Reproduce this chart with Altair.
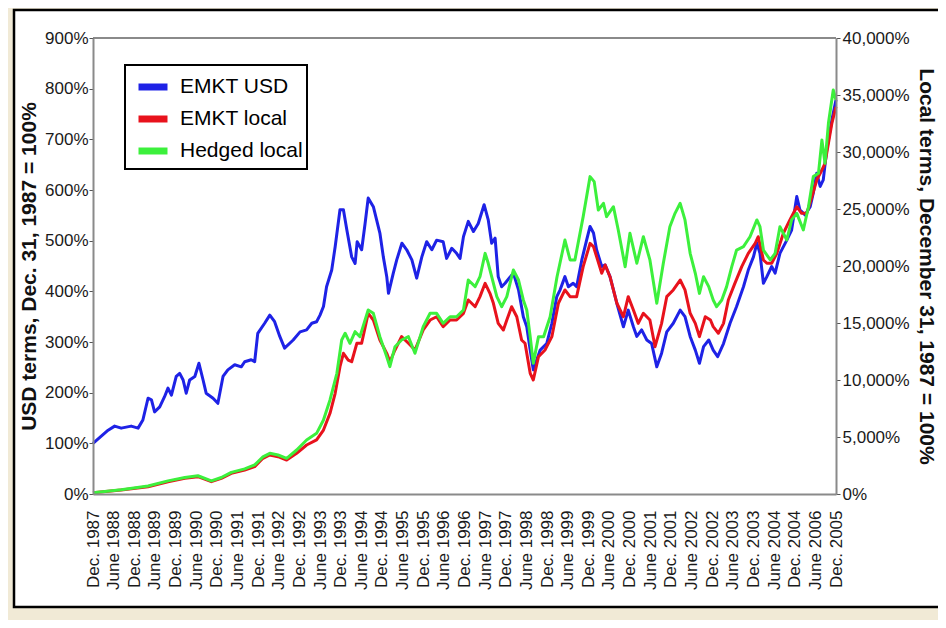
import altair as alt
import pandas as pd

# ---------------- data ----------------
# t = months since Dec. 31, 1987
usd_t = [0.0, 4.4, 6.3, 8.2, 11.1, 13.1, 14.5, 16.0, 17.0, 17.9, 19.4, 20.8, 21.8, 22.8, 24.2,
         25.2, 26.2, 27.1, 28.1, 29.6, 30.8, 32.0, 32.9, 34.9, 36.3, 37.8, 39.2, 41.2, 43.1, 44.1,
         46.0, 47.0, 47.9, 49.9, 51.4, 52.8, 54.3, 55.7, 58.2, 60.2, 62.1, 63.6, 65.0, 66.0, 67.0,
         67.9, 69.4, 70.4, 71.8, 72.8, 73.8, 75.2, 76.2, 76.8, 78.1, 79.1, 80.0, 81.5, 83.4, 84.4,
         85.4, 85.9, 87.3, 88.3, 89.8, 91.2, 92.7, 94.1, 95.6, 97.0, 98.5, 99.9, 101.8, 102.8, 104.3,
         105.7, 106.7, 107.7, 109.1, 110.6, 112.0, 113.7, 114.9, 115.9, 116.9, 117.8, 118.8, 119.8,
         122.2, 123.7, 125.1, 126.1, 127.1, 128.0, 130.0, 131.9, 133.4, 134.8, 135.8, 137.2, 138.2,
         139.6, 140.6, 142.1, 143.5, 144.5, 145.5, 146.4, 147.9, 148.9, 150.3, 152.3, 154.2, 155.6,
         157.1, 158.1, 159.5, 161.0, 162.4, 163.9, 165.3, 166.8, 168.7, 170.7, 172.1, 173.6, 175.1,
         176.3, 177.5, 179.0, 180.3, 181.6, 183.3, 185.2, 187.1, 189.1, 190.5, 192.0, 193.0, 193.9,
         194.9, 195.9, 197.3, 198.3, 199.7, 201.7, 203.1, 204.6, 205.5, 207.0, 208.5, 209.4, 210.4,
         211.4, 212.3, 213.3, 214.8, 216.0]
usd_v = [100, 126, 134, 130, 134, 130, 146, 189, 186, 162, 172, 192, 209, 195, 232,
         238, 225, 199, 225, 232, 258, 225, 199, 189, 179, 232, 245, 255, 251, 261,
         265, 261, 317, 337, 353, 340, 311, 288, 304, 320, 324, 337, 340, 353, 370,
         409, 442, 488, 561, 561, 521, 468, 455, 498, 482, 534, 584, 567, 515, 468,
         429, 396, 436, 462, 495, 482, 462, 426, 468, 498, 482, 501, 498, 465, 485,
         475, 465, 508, 538, 518, 534, 571, 541, 495, 505, 429, 409, 416,
         436, 403, 350, 330, 284, 245, 284, 297, 337, 389, 403, 429, 409,
         416, 409, 462, 501, 528, 515, 482, 449, 452, 429, 376, 330, 363,
         330, 311, 324, 304, 297, 251, 278, 320, 337, 363, 350, 311, 284,
         258, 291, 304, 284, 271, 297, 337, 370, 409, 442, 468, 495, 475,
         416, 429, 449, 436, 475, 501, 521, 587, 561, 551, 567, 594, 633,
         607, 620, 679, 738, 778]

local_t = [0.0, 8.2, 16.0, 21.8, 26.7, 30.5, 34.4, 37.3, 40.2, 44.1, 47.0, 49.4, 51.4, 53.8, 56.3,
           59.2, 62.1, 65.0, 67.0, 68.9, 70.4, 71.8, 72.8, 74.2, 75.2, 76.7, 78.1, 80.0, 81.5, 83.4,
           85.4, 86.3, 87.8, 89.7, 91.7, 93.6, 96.0, 98.0, 99.9, 101.8, 103.8, 105.7, 107.7, 109.1,
           111.1, 112.5, 114.0, 115.4, 116.4, 117.8, 119.3, 120.3, 121.7, 123.2, 124.6, 125.6, 127.1,
           128.0, 129.5, 131.4, 133.4, 135.3, 137.2, 138.7, 140.6, 142.5, 144.5, 145.5, 146.4, 147.9,
           148.9, 150.3, 152.3, 154.2, 155.6, 157.1, 158.5, 160.0, 161.9, 163.4, 165.3, 166.8, 168.7,
           170.7, 172.1, 173.6, 175.1, 176.3, 178.0, 179.5, 180.3, 181.8, 183.3, 184.7, 186.6, 188.6,
           190.5, 192.5, 193.4, 194.9, 195.9, 197.3, 198.8, 200.7, 202.6, 204.6, 206.0, 207.5, 209.0,
           210.4, 211.9, 212.8, 213.8, 214.8, 216.0]
local_v = [100, 350, 640, 1080, 1375, 1520, 1080, 1375, 1815, 2105, 2400, 3130, 3420, 3275, 2980,
           3570, 4300, 4740, 5610, 7080, 8830, 11170, 12340, 11750, 11600, 13220, 13220, 15850, 15260, 13510,
           12340, 11600, 12630, 13800, 13220, 12630, 14390, 15260, 15550, 14680, 15260, 15260, 15850, 17020,
           16430, 17310, 18480, 17600, 16730, 14970, 14390, 15260, 16430, 15550, 13510, 13220, 10590,
           10000, 12040, 12630, 13800, 16730, 17900, 17310, 17310, 19940, 21990, 21700, 20820, 19360,
           20090, 19060, 16730, 15550, 17310, 16140, 14970, 15850, 15260, 12920, 14970, 17310, 17900,
           18770, 17900, 15850, 14970, 13800, 15550, 15260, 14680, 14100, 14970, 17020, 18480, 19940,
           21110, 21990, 22570, 20530, 20240, 20240, 21110, 22870, 24040, 25200, 24620, 24620, 26080,
           27540, 28420, 29010, 30760, 32520, 33970]

hedged_t = [0.0, 8.2, 16.0, 21.8, 26.7, 30.5, 34.4, 37.3, 40.2, 44.1, 47.0, 49.4, 51.4, 53.8, 56.3,
            59.2, 62.1, 65.0, 67.0, 68.9, 70.9, 72.3, 73.3, 74.7, 76.2, 77.6, 80.0, 81.5, 83.4, 85.4,
            86.3, 87.8, 89.7, 91.7, 93.6, 96.0, 98.0, 99.9, 101.8, 103.8, 105.7, 107.7, 109.1, 111.1,
            112.5, 114.0, 114.9, 115.9, 117.4, 118.8, 120.3, 122.2, 123.7, 125.1, 126.1, 127.1, 128.0,
            129.5, 131.0, 132.9, 134.9, 137.2, 138.7, 140.1, 142.5, 144.5, 145.7, 146.9, 148.4, 149.3,
            151.3, 152.7, 154.7, 156.1, 158.1, 160.0, 161.9, 163.9, 165.8, 167.7, 169.2, 170.7, 172.1,
            173.6, 175.1, 176.3, 177.5, 179.0, 180.3, 181.3, 182.8, 184.2, 185.7, 187.1, 189.1, 191.0,
            193.0, 193.9, 194.9, 196.9, 198.3, 199.7, 201.7, 203.1, 204.6, 206.5, 208.0, 209.4, 210.9,
            211.9, 212.8, 213.8, 215.2, 216.0]
hedged_v = [100, 380, 700, 1150, 1450, 1600, 1150, 1450, 1900, 2200, 2550, 3250, 3570, 3420, 3130,
            3860, 4740, 5320, 6490, 8250, 10590, 13510, 14100, 13220, 14240, 13800, 16140, 15850, 13800, 12040,
            11170, 12920, 13510, 13800, 12340, 14680, 15850, 15850, 14970, 15550, 15550, 16140, 18770, 18190,
            19060, 21110, 20240, 19060, 17310, 16430, 17310, 19650, 18770, 17020, 16140, 13800, 11460,
            13800, 13800, 15550, 19060, 22280, 20530, 20530, 24330, 27840, 27400, 24910, 25500, 24330,
            25200, 23160, 19940, 22870, 20240, 22570, 20530, 16730, 20240, 23450, 24620, 25500, 24040,
            21110, 19360, 17600, 19060, 18190, 17020, 16430, 17020, 18190, 19940, 21400, 21700, 22570,
            24040, 23450, 21400, 20530, 21110, 23450, 22280, 24040, 24620, 23160, 25200, 27840, 28130,
            31050, 29010, 32520, 35440, 34560]

series_names = ["EMKT USD", "EMKT local", "Hedged local"]
series_colors = ["#1e22e6", "#e8121c", "#3cf03c"]

tick_labels = ["Dec. 1987", "June 1988", "Dec. 1988", "June 1989", "Dec. 1989", "June 1990",
               "Dec. 1990", "June 1991", "Dec. 1991", "June 1992", "Dec. 1992", "June 1993",
               "Dec. 1993", "June 1994", "Dec. 1994", "June 1995", "Dec. 1995", "June 1996",
               "Dec. 1996", "June 1997", "Dec. 1997", "June 1998", "Dec. 1998", "June 1999",
               "Dec. 1999", "June 2000", "Dec. 2000", "June 2001", "Dec. 2001", "June 2002",
               "Dec. 2002", "June 2003", "Dec. 2003", "June 2004", "Dec. 2004", "June 2006",
               "Dec. 2005"]
tick_months = [6 * i for i in range(len(tick_labels))]
usd_ticks = list(range(0, 901, 100))
local_ticks = list(range(0, 40001, 5000))

# ---------------- build ----------------
W, H = 743, 456
FONT = "Liberation Sans"

df_usd = pd.DataFrame({"t": usd_t, "v": usd_v, "series": "EMKT USD"})
df_local = pd.concat([
    pd.DataFrame({"t": local_t, "v": local_v, "series": "EMKT local"}),
    pd.DataFrame({"t": hedged_t, "v": hedged_v, "series": "Hedged local"}),
], ignore_index=True)

label_array = "[" + ",".join("'" + s + "'" for s in tick_labels) + "]"

x_enc = alt.X(
    "t:Q",
    scale=alt.Scale(domain=[0, 216], nice=False, zero=False),
    axis=alt.Axis(
        values=tick_months, labelExpr=label_array + "[round(datum.value/6)]",
        labelAngle=270, labelAlign="right", labelBaseline="middle",
        ticks=False, labelPadding=16, labelFontSize=17, labelFont=FONT,
        labelColor="#1a1a1a", labelOverlap=False, labelBound=False, labelFlush=False,
        domainColor="#8a8a8a", domainWidth=2, grid=False, title=None, zindex=1,
    ),
)

color_enc = alt.Color(
    "series:N",
    scale=alt.Scale(domain=series_names, range=series_colors),
    legend=alt.Legend(
        title=None, orient="none", legendX=32, legendY=27, direction="vertical",
        fillColor="white", strokeColor="black", padding=4, symbolOffset=6,
        labelFontSize=21, labelFont=FONT, labelColor="black", labelOffset=9,
        labelLimit=400, symbolType="stroke", symbolSize=841, symbolStrokeWidth=7,
        rowPadding=0, zindex=1,
    ),
)

panel = alt.Chart(pd.DataFrame({"a": [0]})).mark_rect(
    fill="white", stroke="black", strokeWidth=2.5, clip=False
).encode(x=alt.value(-79), x2=alt.value(W + 120), y=alt.value(-28), y2=alt.value(569))

usd = alt.Chart(df_usd).mark_line(strokeWidth=3, strokeJoin="round").encode(
    x=x_enc,
    y=alt.Y(
        "v:Q", scale=alt.Scale(domain=[0, 900], nice=False),
        axis=alt.Axis(
            orient="left", values=usd_ticks, labelExpr="datum.value + '%'",
            tickSize=4, tickColor="#555", tickWidth=1, labelPadding=1,
            labelFontSize=17, labelFont=FONT, labelColor="#1a1a1a",
            title="USD terms, Dec. 31, 1987 = 100%", titleFontSize=21, titleFont=FONT,
            titleFontWeight="bold", titleColor="#111", titlePadding=5,
            domainColor="#8a8a8a", domainWidth=2, grid=False, zindex=1,
        ),
    ),
    color=color_enc,
)

local = alt.Chart(df_local).mark_line(strokeWidth=3, strokeJoin="round").encode(
    x=x_enc,
    y=alt.Y(
        "v:Q", scale=alt.Scale(domain=[0, 40000], nice=False),
        axis=alt.Axis(
            orient="right", values=local_ticks, labelExpr="format(datum.value, ',') + '%'",
            tickSize=4, tickColor="#555", tickWidth=1, labelPadding=2,
            labelFontSize=17, labelFont=FONT, labelColor="#1a1a1a",
            title="Local terms, December 31, 1987 = 100%", titleFontSize=21, titleFont=FONT,
            titleFontWeight="bold", titleColor="#111", titlePadding=6,
            domainColor="#8a8a8a", domainWidth=2, grid=False, zindex=1,
        ),
    ),
    color=color_enc,
)

frame_top = alt.Chart(pd.DataFrame({"a": [0]})).mark_rule(color="#8a8a8a", strokeWidth=2).encode(
    x=alt.value(0), x2=alt.value(W), y=alt.value(0)
)

chart = alt.layer(panel, usd, local, frame_top).resolve_scale(y="independent").properties(
    width=W, height=H,
    autosize=alt.AutoSizeParams(type="none"),
    padding={"left": 85, "top": 30, "right": 102, "bottom": 126},
    background="#F1EAD6",
).configure_view(strokeWidth=0).configure_legend(strokeWidth=2)

chart.save("out.html", embed_options={"renderer": "svg", "actions": False})
